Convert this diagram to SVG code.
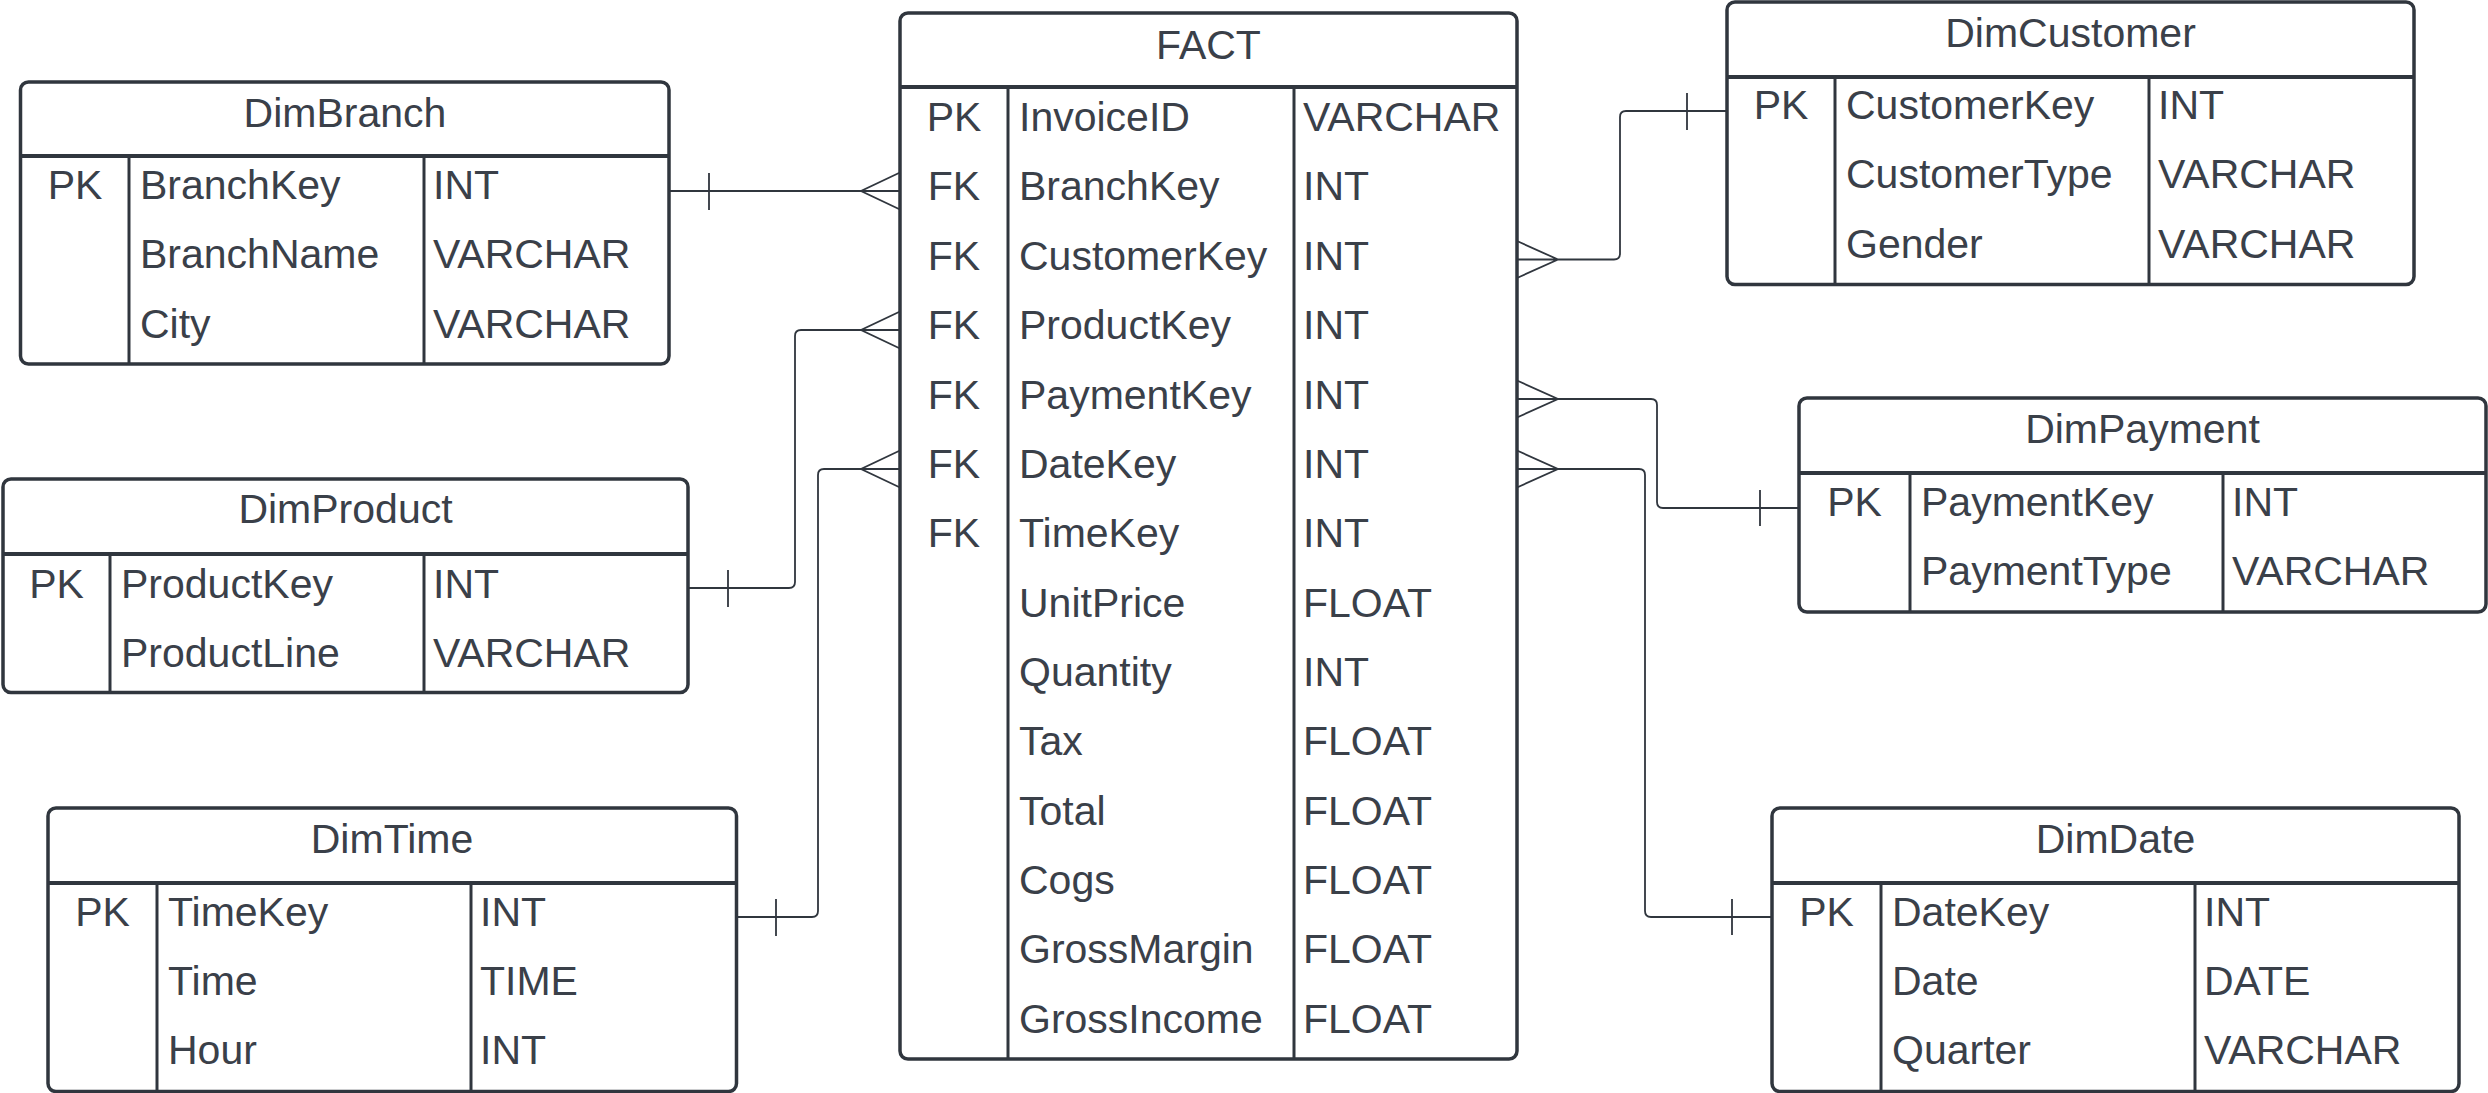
<svg xmlns="http://www.w3.org/2000/svg" width="2488" height="1093" viewBox="0 0 2488 1093">
<style>
.box{fill:#fff;stroke:#30363e;stroke-width:3.5}
.hl{stroke:#30363e;stroke-width:4}
.cl{stroke:#30363e;stroke-width:3}
text{font-family:"Liberation Sans",Arial,sans-serif;font-size:41px;fill:#3a4049}
.t{text-anchor:middle}
.k{text-anchor:middle}
.c{fill:none;stroke:#30363e;stroke-width:1.8}
</style>
<rect width="2488" height="1093" fill="#fff"/>
<g id="connectors">
<path class="c" d="M669,191 H900 M900,172.5 L861,191 L900,209.5 M709,173 V210"/>
<path class="c" d="M688,588 H789 Q795,588 795,582 V336 Q795,330 801,330 H900 M900,311.5 L861,330 L900,348.5 M728,570 V607"/>
<path class="c" d="M736.5,917 H812 Q818,917 818,911 V475 Q818,469 824,469 H900 M900,450.5 L861,469 L900,487.5 M776,899 V936"/>
<path class="c" d="M1517,259.5 H1614 Q1620,259.5 1620,253.5 V117 Q1620,111 1626,111 H1727 M1517,241 L1558,259.5 L1517,278 M1687,93 V130"/>
<path class="c" d="M1517,399 H1651 Q1657,399 1657,405 V502 Q1657,508 1663,508 H1799 M1517,380.5 L1558,399 L1517,417.5 M1760,490 V526"/>
<path class="c" d="M1517,469 H1639 Q1645,469 1645,475 V911 Q1645,917 1651,917 H1772 M1517,450.5 L1558,469 L1517,487.5 M1732,899 V935"/>
</g>
<g id="DimBranch">
<rect class="box" x="20.5" y="82" width="648.5" height="282" rx="8"/>
<line class="hl" x1="20.5" y1="156" x2="669" y2="156"/>
<line class="cl" x1="129" y1="156" x2="129" y2="364"/>
<line class="cl" x1="424" y1="156" x2="424" y2="364"/>
<text class="t" x="345" y="127">DimBranch</text>
<text class="k" x="75" y="199">PK</text>
<text x="140" y="199">BranchKey</text><text x="433" y="199">INT</text>
<text x="140" y="268">BranchName</text><text x="433" y="268">VARCHAR</text>
<text x="140" y="338">City</text><text x="433" y="338">VARCHAR</text>
</g>
<g id="DimProduct">
<rect class="box" x="3" y="479" width="685" height="213.5" rx="8"/>
<line class="hl" x1="3" y1="554" x2="688" y2="554"/>
<line class="cl" x1="110" y1="554" x2="110" y2="692.5"/>
<line class="cl" x1="424" y1="554" x2="424" y2="692.5"/>
<text class="t" x="345.5" y="523">DimProduct</text>
<text class="k" x="56.5" y="598">PK</text>
<text x="121" y="598">ProductKey</text><text x="433" y="598">INT</text>
<text x="121" y="667">ProductLine</text><text x="433" y="667">VARCHAR</text>
</g>
<g id="DimTime">
<rect class="box" x="48" y="808" width="688.5" height="283.5" rx="8"/>
<line class="hl" x1="48" y1="883" x2="736.5" y2="883"/>
<line class="cl" x1="157" y1="883" x2="157" y2="1091.5"/>
<line class="cl" x1="471" y1="883" x2="471" y2="1091.5"/>
<text class="t" x="392" y="853">DimTime</text>
<text class="k" x="102.5" y="926">PK</text>
<text x="168" y="926">TimeKey</text><text x="480" y="926">INT</text>
<text x="168" y="995">Time</text><text x="480" y="995">TIME</text>
<text x="168" y="1064">Hour</text><text x="480" y="1064">INT</text>
</g>
<g id="FACT">
<rect class="box" x="900" y="13" width="617" height="1046" rx="8"/>
<line class="hl" x1="900" y1="87" x2="1517" y2="87"/>
<line class="cl" x1="1008" y1="87" x2="1008" y2="1059"/>
<line class="cl" x1="1294" y1="87" x2="1294" y2="1059"/>
<text class="t" x="1208.5" y="59">FACT</text>
<text class="k" x="954" y="131">PK</text><text x="1019" y="131">InvoiceID</text><text x="1303" y="131">VARCHAR</text>
<text class="k" x="954" y="200">FK</text><text x="1019" y="200">BranchKey</text><text x="1303" y="200">INT</text>
<text class="k" x="954" y="270">FK</text><text x="1019" y="270">CustomerKey</text><text x="1303" y="270">INT</text>
<text class="k" x="954" y="339">FK</text><text x="1019" y="339">ProductKey</text><text x="1303" y="339">INT</text>
<text class="k" x="954" y="409">FK</text><text x="1019" y="409">PaymentKey</text><text x="1303" y="409">INT</text>
<text class="k" x="954" y="478">FK</text><text x="1019" y="478">DateKey</text><text x="1303" y="478">INT</text>
<text class="k" x="954" y="547">FK</text><text x="1019" y="547">TimeKey</text><text x="1303" y="547">INT</text>
<text x="1019" y="617">UnitPrice</text><text x="1303" y="617">FLOAT</text>
<text x="1019" y="686">Quantity</text><text x="1303" y="686">INT</text>
<text x="1019" y="755">Tax</text><text x="1303" y="755">FLOAT</text>
<text x="1019" y="825">Total</text><text x="1303" y="825">FLOAT</text>
<text x="1019" y="894">Cogs</text><text x="1303" y="894">FLOAT</text>
<text x="1019" y="963">GrossMargin</text><text x="1303" y="963">FLOAT</text>
<text x="1019" y="1033">GrossIncome</text><text x="1303" y="1033">FLOAT</text>
</g>
<g id="DimCustomer">
<rect class="box" x="1727" y="2" width="687" height="282.5" rx="8"/>
<line class="hl" x1="1727" y1="77" x2="2414" y2="77"/>
<line class="cl" x1="1835" y1="77" x2="1835" y2="284.5"/>
<line class="cl" x1="2149" y1="77" x2="2149" y2="284.5"/>
<text class="t" x="2070.5" y="47">DimCustomer</text>
<text class="k" x="1781" y="119">PK</text>
<text x="1846" y="119">CustomerKey</text><text x="2158" y="119">INT</text>
<text x="1846" y="188">CustomerType</text><text x="2158" y="188">VARCHAR</text>
<text x="1846" y="258">Gender</text><text x="2158" y="258">VARCHAR</text>
</g>
<g id="DimPayment">
<rect class="box" x="1799" y="398" width="687" height="214" rx="8"/>
<line class="hl" x1="1799" y1="473" x2="2486" y2="473"/>
<line class="cl" x1="1910" y1="473" x2="1910" y2="612"/>
<line class="cl" x1="2223" y1="473" x2="2223" y2="612"/>
<text class="t" x="2142.5" y="443">DimPayment</text>
<text class="k" x="1854.5" y="516">PK</text>
<text x="1921" y="516">PaymentKey</text><text x="2232" y="516">INT</text>
<text x="1921" y="585">PaymentType</text><text x="2232" y="585">VARCHAR</text>
</g>
<g id="DimDate">
<rect class="box" x="1772" y="808" width="687" height="283.5" rx="8"/>
<line class="hl" x1="1772" y1="883" x2="2459" y2="883"/>
<line class="cl" x1="1881" y1="883" x2="1881" y2="1091.5"/>
<line class="cl" x1="2195" y1="883" x2="2195" y2="1091.5"/>
<text class="t" x="2115.5" y="853">DimDate</text>
<text class="k" x="1826.5" y="926">PK</text>
<text x="1892" y="926">DateKey</text><text x="2204" y="926">INT</text>
<text x="1892" y="995">Date</text><text x="2204" y="995">DATE</text>
<text x="1892" y="1064">Quarter</text><text x="2204" y="1064">VARCHAR</text>
</g>
</svg>
